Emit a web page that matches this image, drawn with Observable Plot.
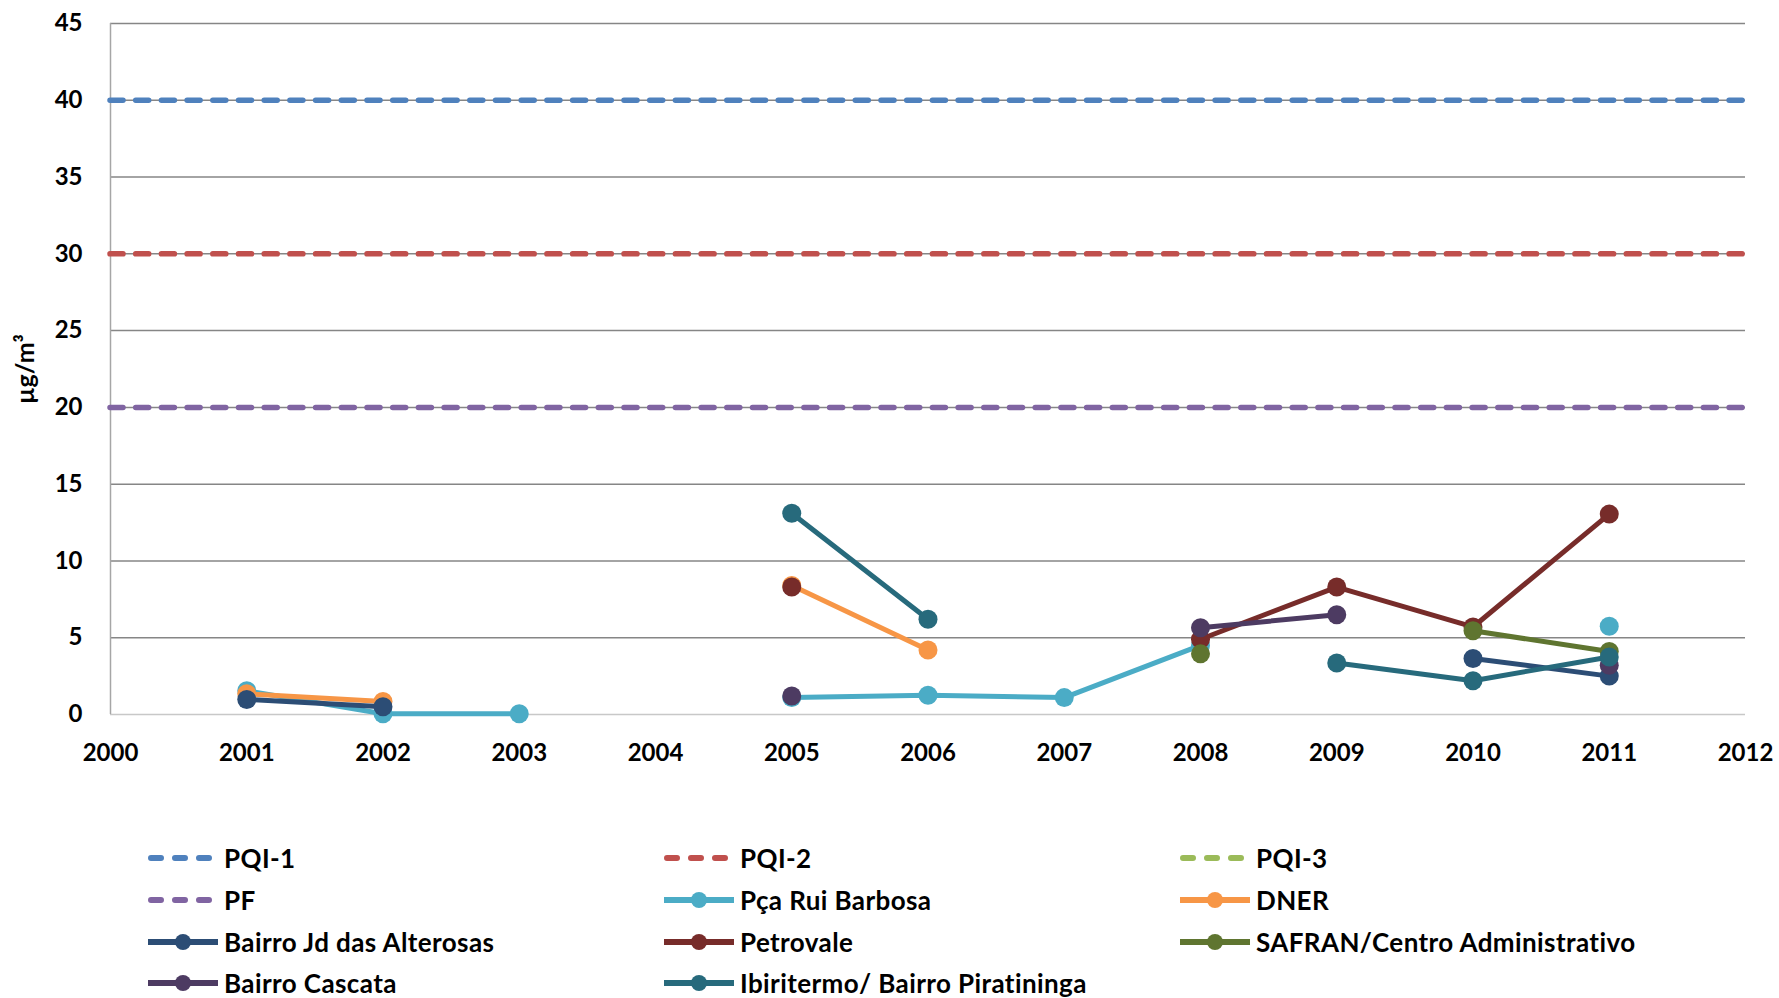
<!DOCTYPE html>
<html>
<head>
<meta charset="utf-8">
<script src="https://cdn.jsdelivr.net/npm/d3@7"></script>
<script src="https://cdn.jsdelivr.net/npm/@observablehq/plot@0.6"></script>
<style>
  html, body { margin: 0; padding: 0; background: #fff; }
  #wrap { position: relative; width: 1779px; height: 998px; font-family: Lato, "Open Sans", sans-serif; }
  #legend { position: absolute; left: 0; top: 0; width: 1779px; height: 998px; pointer-events: none; }
  .item { position: absolute; height: 30px; display: flex; align-items: center; }
  .item span { font-weight: bold; font-size: 26px; letter-spacing: 0.4px; color: #000; margin-left: 6px; white-space: nowrap; }
</style>
</head>
<body>
<div id="wrap"><div id="chart"></div><div id="legend"></div></div>
<script>
// ---- data ----
const years = [2001, 2002, 2003, 2004, 2005, 2006, 2007, 2008, 2009, 2010, 2011];
const pcaRuiBarbosa = [1.55, 0.05, 0.05, null, 1.1, 1.25, 1.1, 4.5, null, null, 5.75];
const dner = [1.35, 0.85, null, null, 8.4, 4.2, null, null, null, null, null];
const jdAlterosas = [0.98, 0.5, null, null, null, null, null, null, null, 3.65, 2.5];
const petrovale = [null, null, null, null, 8.3, null, null, 4.9, 8.3, 5.7, 13.05];
const safran = [null, null, null, null, null, null, null, 3.95, null, 5.45, 4.1];
const cascata = [null, null, null, null, 1.2, null, null, 5.65, 6.5, null, 3.2];
const ibiritermo = [null, null, null, null, 13.1, 6.2, null, null, 3.35, 2.2, 3.75];

const limitNames = ["PQI-1", "PQI-2", "PQI-3", "PF"];
const limitValues = [40, 30, null, 20];
const limitColors = ["#4F81BD", "#C0504D", "#9BBB59", "#8064A2"];

const seriesNames = ["Pça Rui Barbosa", "DNER", "Bairro Jd das Alterosas", "Petrovale",
  "SAFRAN/Centro Administrativo", "Bairro Cascata", "Ibiritermo/ Bairro Piratininga"];
const seriesValues = [pcaRuiBarbosa, dner, jdAlterosas, petrovale, safran, cascata, ibiritermo];
const seriesColors = ["#4BACC6", "#F79646", "#2C4D75", "#772C2A", "#5F7530", "#4D3B62", "#276A7C"];

const xTicks = d3.range(2000, 2013, 1);
const yTicks = d3.range(0, 46, 5);
const yLabel = "µg/m³";

// ---- build ----
const rows = seriesNames.flatMap((s, i) => years.map((yr, j) => ({series: s, year: yr, value: seriesValues[i][j]})));
const limits = limitNames.map((n, i) => ({name: n, value: limitValues[i]}));

const marks = [
  Plot.ruleY(yTicks.filter(d => d > 0), {stroke: "#868686", strokeWidth: 1.5}),
  Plot.ruleY([0], {stroke: "#c8c8c8", strokeWidth: 1.5}),
  Plot.ruleX([2000], {stroke: "#a6a6a6", strokeWidth: 1.5}),
  ...limits.filter(d => d.value != null).map(d =>
    Plot.ruleY([d], {y: "value", stroke: "name", strokeWidth: 5.5, strokeDasharray: "13,12.7", strokeLinecap: "round"})
  )
];
seriesNames.forEach(s => {
  const data = rows.filter(r => r.series === s);
  marks.push(Plot.line(data, {x: "year", y: "value", stroke: "series", strokeWidth: 5}));
  marks.push(Plot.dot(data.filter(r => r.value != null), {x: "year", y: "value", fill: "series", r: 9.5}));
});
marks.push(Plot.text([yLabel], {frameAnchor: "left", textAnchor: "middle", dx: -85, rotate: -90, text: d => d, fontSize: 25, fontWeight: "bold", fill: "#000"}));

const chart = Plot.plot({
  width: 1779,
  height: 998,
  marginTop: 23,
  marginLeft: 110,
  marginRight: 34,
  marginBottom: 284,
  style: {fontFamily: "Lato, 'Open Sans', sans-serif", fontWeight: "bold", fontSize: "24px", color: "#000", background: "#fff"},
  x: {domain: [2000, 2012], ticks: xTicks, tickFormat: d3.format("d"), tickSize: 0, tickPadding: 29, label: null},
  y: {domain: [0, 45], ticks: yTicks, tickSize: 0, tickPadding: 28, label: null},
  color: {domain: [...limitNames, ...seriesNames], range: [...limitColors, ...seriesColors]},
  marks
});
document.getElementById("chart").appendChild(chart);

// ---- legend (HTML) ----
const legendItems = [
  ...limitNames.map((n, i) => ({name: n, color: limitColors[i], dashed: true})),
  ...seriesNames.map((n, i) => ({name: n, color: seriesColors[i], dashed: false}))
];
const colX = [148, 664, 1180];
const rowY = [858, 900, 942, 983];
const legend = document.getElementById("legend");
legendItems.forEach((it, k) => {
  const col = k % 3, row = Math.floor(k / 3);
  const div = document.createElement("div");
  div.className = "item";
  div.style.left = colX[col] + "px";
  div.style.top = (rowY[row] - 15) + "px";
  const sw = it.dashed
    ? `<svg width="70" height="30"><line x1="3" x2="67" y1="15" y2="15" stroke="${it.color}" stroke-width="6" stroke-linecap="round" stroke-dasharray="10,14"/></svg>`
    : `<svg width="70" height="30"><line x1="0" x2="70" y1="15" y2="15" stroke="${it.color}" stroke-width="6"/><circle cx="35" cy="15" r="8" fill="${it.color}"/></svg>`;
  div.innerHTML = sw + `<span>${it.name}</span>`;
  legend.appendChild(div);
});
</script>
</body>
</html>
